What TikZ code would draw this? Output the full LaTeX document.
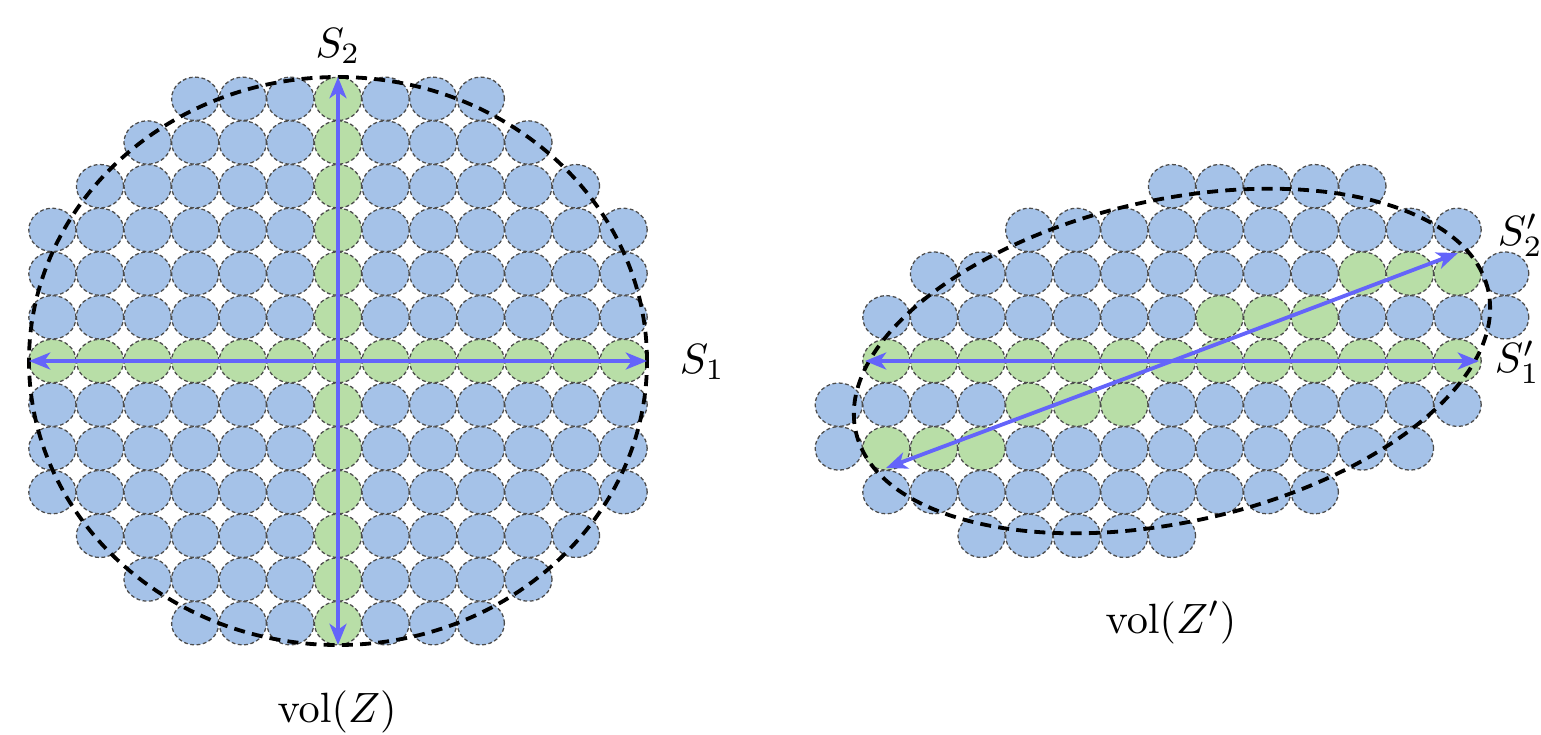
\documentclass[tikz,border=0pt]{standalone}
\usepackage{amsmath}
\usepackage{tikz}
\usetikzlibrary{arrows.meta}
\definecolor{cellblue}{RGB}{165,194,232}
\definecolor{cellgreen}{RGB}{184,222,167}
\definecolor{axisblue}{RGB}{100,100,250}

\begin{document}
\begin{tikzpicture}[x=0.0083cm,y=0.0083cm,
cell/.style={draw=black!70,line width=0.3pt,dash pattern=on 0.9pt off 0.6pt},
hull/.style={draw=black,line width=0.9pt,dash pattern=on 2.6pt off 1.7pt},
axis/.style={draw=axisblue,line width=0.9pt,-{Stealth[length=5pt,width=4pt,inset=1.4pt]}}]
\useasboundingbox (0,0) rectangle (1541,734);
% Volumen Z
\begin{scope}[shift={(338,373)}]
\foreach \r/\n in {-6/3,-5/4,-4/5,-3/6,-2/6,-1/6,0/6,1/6,2/6,3/6,4/5,5/4,6/3}
  \foreach \c in {-\n,...,\n}{
    \ifnum\r=0 \def\col{cellgreen}\else\ifnum\c=0 \def\col{cellgreen}\else\def\col{cellblue}\fi\fi
    \path[cell,fill=\col] (\c*47.6,\r*43.7) ellipse (23.6 and 21.7);
  }
\draw[hull] (0,0) ellipse (309 and 284);
\coordinate (z0) at (0,0);
\coordinate (z1) at (309,0);
\coordinate (z1n) at (-309,0);
\coordinate (z2) at (0,284);
\coordinate (z2n) at (0,-284);
\draw[axis] (z0)--(z1);
\draw[axis] (z0)--(z1n);
\draw[axis] (z0)--(z2);
\draw[axis] (z0)--(z2n);
\end{scope}
% Volumen Z'
\begin{scope}[shift={(1172,373)}]
\foreach \r/\a/\b/\ga/\gb in {4/0/4/99/99,3/-3/6/99/99,2/-5/7/4/6,1/-6/7/1/3,0/-6/6/-6/6,
  -1/-7/6/-3/-1,-2/-7/5/-6/-4,-3/-6/3/99/99,-4/-4/0/99/99}
  \foreach \c in {\a,...,\b}{
    \def\col{cellgreen}
    \ifnum\c<\ga \def\col{cellblue}\fi
    \ifnum\c>\gb \def\col{cellblue}\fi
    \path[cell,fill=\col] (\c*47.6,\r*43.7) ellipse (23.6 and 21.7);
  }
\draw[hull,rotate=12.6] (0,0) ellipse (324 and 161);
\coordinate (w0) at (0,0);
\coordinate (w1) at (307,0);
\coordinate (w1n) at (-307,0);
\coordinate (w2) at (286,108);
\coordinate (w2n) at (-286,-107);
\draw[axis] (w0)--(w1);
\draw[axis] (w0)--(w1n);
\draw[axis] (w0)--(w2);
\draw[axis] (w0)--(w2n);
\end{scope}
% Beschriftung
\node[inner sep=0] (s2) at (338,688) {$S_2$};
\node[inner sep=0,anchor=west] (s1) at (679,372) {$S_1$};
\node[inner sep=0,anchor=west] (s2p) at (1497,499) {$S_2'$};
\node[inner sep=0,anchor=west] (s1p) at (1494,372) {$S_1'$};
\node[inner sep=0,anchor=base] (volz) at (337,12) {$\mathrm{vol}(Z)$};
\node[inner sep=0,anchor=base] (volzp) at (1171,101) {$\mathrm{vol}(Z')$};
\end{tikzpicture}
\end{document}
